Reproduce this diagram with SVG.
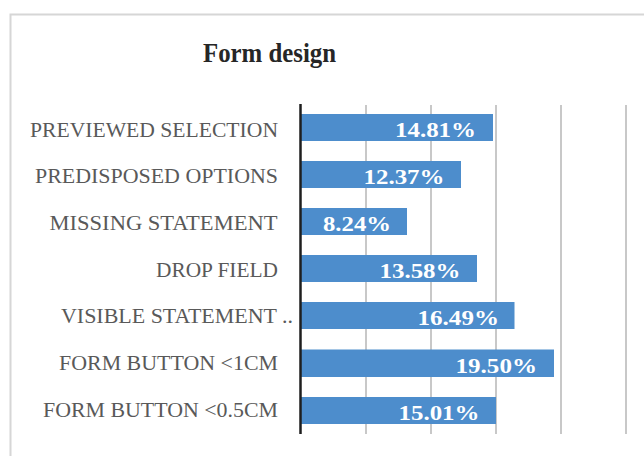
<svg xmlns="http://www.w3.org/2000/svg" width="644" height="456" viewBox="0 0 644 456">
<style>
.cat{font-family:"Liberation Serif","Times New Roman",serif;font-size:20px;fill:#595959;text-anchor:end}
.val{font-family:"Liberation Serif","Times New Roman",serif;font-size:22px;font-weight:bold;fill:#ffffff;text-anchor:end}
.bar{fill:#4d8dcc}
.grid{stroke:#c8c8c8;stroke-width:2}
</style>
<rect width="644" height="456" fill="#ffffff"/>
<path d="M10.5,456 V14.5 H644" fill="none" stroke="#d6d6d6" stroke-width="2"/>
<text x="269.5" y="62" font-family="'Liberation Serif','Times New Roman',serif" font-size="27" font-weight="bold" fill="#262626" text-anchor="middle" textLength="133" lengthAdjust="spacingAndGlyphs">Form design</text>
<g id="gridlines">
<line class="grid" x1="366" y1="105" x2="366" y2="434"/>
<line class="grid" x1="431" y1="105" x2="431" y2="434"/>
<line class="grid" x1="496" y1="105" x2="496" y2="434"/>
<line class="grid" x1="561" y1="105" x2="561" y2="434"/>
<line class="grid" x1="626" y1="105" x2="626" y2="434"/>
</g>
<g id="bar1">
<rect class="bar" x="301" y="114" width="192" height="27"/>
<text class="cat" x="278" y="136.5" textLength="248" lengthAdjust="spacingAndGlyphs">PREVIEWED SELECTION</text>
<text class="val" x="476" y="137" textLength="81" lengthAdjust="spacingAndGlyphs">14.81%</text>
</g>
<g id="bar2">
<rect class="bar" x="301" y="161" width="160" height="27"/>
<text class="cat" x="278" y="183.2" textLength="243" lengthAdjust="spacingAndGlyphs">PREDISPOSED OPTIONS</text>
<text class="val" x="444.5" y="184" textLength="81" lengthAdjust="spacingAndGlyphs">12.37%</text>
</g>
<g id="bar3">
<rect class="bar" x="301" y="208" width="106" height="27"/>
<text class="cat" x="277.5" y="229.9" textLength="228" lengthAdjust="spacingAndGlyphs">MISSING STATEMENT</text>
<text class="val" x="391" y="231" textLength="68" lengthAdjust="spacingAndGlyphs">8.24%</text>
</g>
<g id="bar4">
<rect class="bar" x="301" y="255" width="176" height="27"/>
<text class="cat" x="278" y="276.6" textLength="122" lengthAdjust="spacingAndGlyphs">DROP FIELD</text>
<text class="val" x="460.5" y="278" textLength="81" lengthAdjust="spacingAndGlyphs">13.58%</text>
</g>
<g id="bar5">
<rect class="bar" x="301" y="302" width="213.5" height="27"/>
<text class="cat" x="293" y="323.3" textLength="232" lengthAdjust="spacingAndGlyphs">VISIBLE  STATEMENT ..</text>
<text class="val" x="499" y="325" textLength="81.5" lengthAdjust="spacingAndGlyphs">16.49%</text>
</g>
<g id="bar6">
<rect class="bar" x="301" y="349.5" width="253" height="27.5"/>
<text class="cat" x="278" y="370.3" textLength="219" lengthAdjust="spacingAndGlyphs">FORM BUTTON &lt;1CM</text>
<text class="val" x="537" y="372.5" textLength="81.5" lengthAdjust="spacingAndGlyphs">19.50%</text>
</g>
<g id="bar7">
<rect class="bar" x="301" y="397" width="195" height="27"/>
<text class="cat" x="278" y="417" textLength="235" lengthAdjust="spacingAndGlyphs">FORM BUTTON &lt;0.5CM</text>
<text class="val" x="479.5" y="420" textLength="81" lengthAdjust="spacingAndGlyphs">15.01%</text>
</g>
<g id="axis">
<line x1="300.5" y1="104" x2="300.5" y2="434" stroke="#1e1e1e" stroke-width="2.5"/>
</g>
</svg>
